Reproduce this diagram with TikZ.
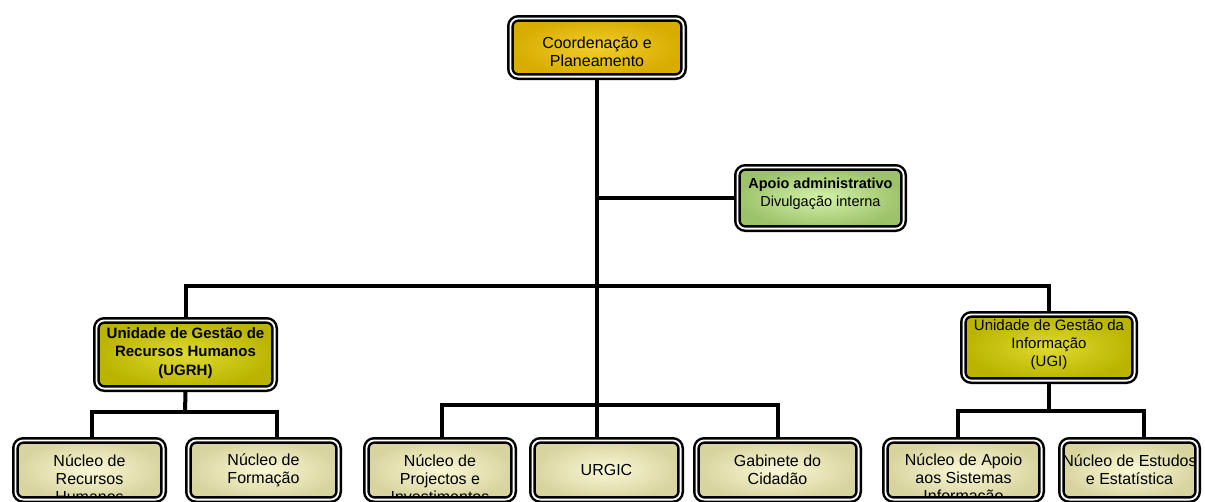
\documentclass[tikz,border=0pt]{standalone}
\usepackage{fontspec}
\setmainfont{Liberation Sans}
\definecolor{goldin}{HTML}{F0CE2C}
\definecolor{goldout}{HTML}{D8AC00}
\definecolor{greenin}{HTML}{D4F2AA}
\definecolor{greenout}{HTML}{9CC26A}
\definecolor{olivein}{HTML}{DEDA30}
\definecolor{oliveout}{HTML}{BAB400}
\definecolor{creamin}{HTML}{FAF8D6}
\definecolor{creamout}{HTML}{D8D4A0}
\begin{document}
\begin{tikzpicture}[x=1pt,y=-1pt,
  every node/.style={inner sep=0pt,align=center},
  box/.style args={#1x#2}{draw=black,line width=2.5pt,double=white,double distance=1.8pt,
    rounded corners=8pt,outer sep=3.4pt,minimum width=#1pt,minimum height=#2pt},
  gold/.style={inner color=goldin,outer color=goldout},
  green/.style={inner color=greenin,outer color=greenout},
  olive/.style={inner color=olivein,outer color=oliveout},
  cream/.style={inner color=creamin,outer color=creamout},
  txt/.style={font=\fontsize{16}{18}\selectfont},
  smalltxt/.style={font=\fontsize{15}{18}\selectfont},
  boldtxt/.style={font=\fontsize{15}{18.5}\selectfont\bfseries},
  link/.style={line width=4pt}]
\clip (0,0) rectangle (1205,501);
% boxes
\node[box=173.2x58.2,gold] (cp) at (597,47.5) {};
\node[box=166.2x61.2,green] (aa) at (820.5,198) {};
\node[box=178.2x68.2,olive] (ugrh) at (185.5,354.5) {};
\node[box=171.2x66.2,olive] (ugi) at (1049,347.5) {};
\node[box=148.2x59.2,cream] (nrh) at (89.5,470) {};
\node[box=150.2x59.2,cream] (nf) at (263.5,470) {};
\node[box=147.2x59.2,cream] (npi) at (440,470) {};
\node[box=148.2x59.2,cream] (urgic) at (606.5,470) {};
\node[box=162.2x59.2,cream] (gc) at (777.5,470) {};
\node[box=156.2x59.2,cream] (nas) at (963.5,470) {};
\node[box=136.2x59.2,cream] (nee) at (1129.5,470) {};
% connectors
\coordinate (bar) at (597,286);
\coordinate (ugrh-bar) at (185,412);
\coordinate (mid-bar) at (597,405);
\coordinate (ugi-bar) at (1049,411);
\draw[link] (cp.south) -- (cp.south |- urgic.north);
\draw[link] (cp.south |- aa.west) -- (aa.west);
\draw[link] (ugrh.north) |- (bar) -| (ugi.north);
\draw[link] (ugrh.south) -- (ugrh-bar);
\draw[link] ([xshift=2.5pt]nrh.north) |- (ugrh-bar) -| ([xshift=13.5pt]nf.north);
\draw[link] ([xshift=2pt]npi.north) |- (mid-bar) -| ([xshift=0.5pt]gc.north);
\draw[link] (ugi.south) -- (ugi-bar);
\draw[link] ([xshift=-5.5pt]nas.north) |- (ugi-bar) -| ([xshift=14pt]nee.north);
% texts
\node[txt] (cp-t) at (597,52) {Coordenação e\\Planeamento};
\node[font=\fontsize{14.5}{18}\selectfont] (aa-t) at (820.5,193.5) {\textbf{Apoio administrativo}\\Divulgação interna};
\node[boldtxt] (ugrh-t) at (185.5,353) {Unidade de Gestão de\\Recursos Humanos\\(UGRH)};
\node[smalltxt] (ugi-t) at (1049,345) {Unidade de Gestão da\\Informação\\(UGI)};
\node[txt] (nf-t) at (263.5,470) {Núcleo de\\Formação};
\node[txt] (urgic-t) at (606.5,470) {URGIC};
\node[txt] (gc-t) at (777.5,470) {Gabinete do\\Cidadão};
\node[txt] (nee-t) at (1129.5,470) {Núcleo de Estudos\\e Estatística};
\begin{scope}
\clip[rounded corners=5pt] ([shift={(6.8pt,-6.8pt)}]nrh.north west) rectangle ([shift={(-6.8pt,6.8pt)}]nrh.south east);
\node[txt] (nrh-t) at (89.5,479) {Núcleo de\\Recursos\\Humanos};
\end{scope}
\begin{scope}
\clip[rounded corners=5pt] ([shift={(6.8pt,-6.8pt)}]npi.north west) rectangle ([shift={(-6.8pt,6.8pt)}]npi.south east);
\node[txt] (npi-t) at (440,479) {Núcleo de\\Projectos e\\Investimentos};
\end{scope}
\begin{scope}
\clip[rounded corners=5pt] ([shift={(6.8pt,-6.8pt)}]nas.north west) rectangle ([shift={(-6.8pt,6.8pt)}]nas.south east);
\node[txt] (nas-t) at (963.5,479) {Núcleo de Apoio\\aos Sistemas\\Informação};
\end{scope}
\end{tikzpicture}
\end{document}
